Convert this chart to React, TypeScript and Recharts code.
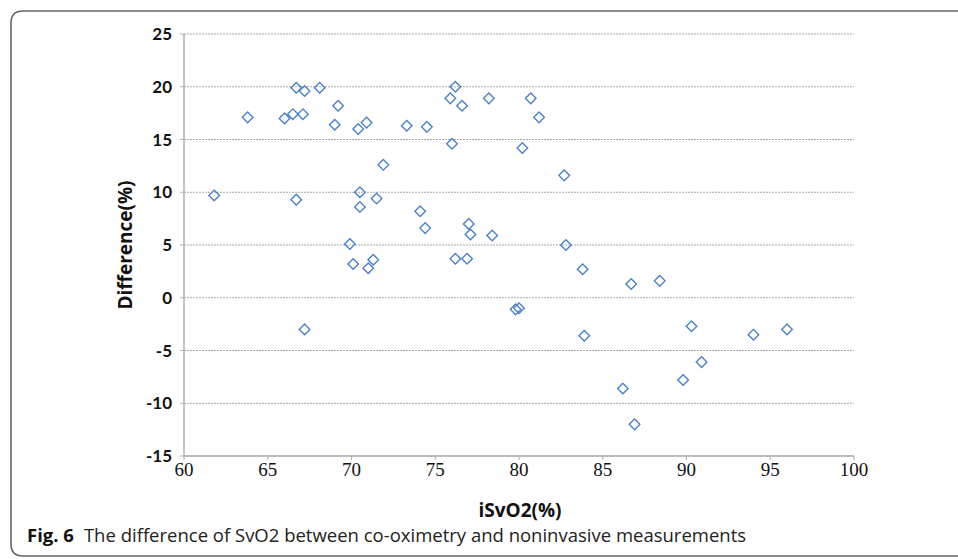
import React from 'react';
import { ScatterChart, Scatter, XAxis, YAxis, CartesianGrid, Label } from 'recharts';

const isvo2: number[] = [
  61.8, 63.8, 66.0, 66.5, 66.7, 67.2, 67.1, 66.7, 68.1, 69.2,
  69.0, 70.4, 70.9, 71.9, 70.5, 70.5, 71.5, 69.9, 70.1, 71.0,
  71.3, 73.3, 74.5, 74.1, 74.4, 75.9, 76.2, 76.6, 76.0, 77.0,
  77.1, 76.2, 76.9, 67.2, 78.2, 80.7, 81.2, 80.2, 82.7, 78.4,
  82.8, 83.8, 86.7, 88.4, 79.8, 80.0, 83.9, 90.3, 94.0, 96.0,
  90.9, 89.8, 86.2, 86.9,
];
const difference: number[] = [
  9.7, 17.1, 17.0, 17.4, 19.9, 19.6, 17.4, 9.3, 19.9, 18.2,
  16.4, 16.0, 16.6, 12.6, 10.0, 8.6, 9.4, 5.1, 3.2, 2.8,
  3.6, 16.3, 16.2, 8.2, 6.6, 18.9, 20.0, 18.2, 14.6, 7.0,
  6.0, 3.7, 3.7, -3.0, 18.9, 18.9, 17.1, 14.2, 11.6, 5.9,
  5.0, 2.7, 1.3, 1.6, -1.1, -1.0, -3.6, -2.7, -3.5, -3.0,
  -6.1, -7.8, -8.6, -12.0,
];
const xTicks = [60, 65, 70, 75, 80, 85, 90, 95, 100];
const yTicks = [-15, -10, -5, 0, 5, 10, 15, 20, 25];

const points = isvo2.map((x, i) => ({ x, y: difference[i] }));

const Diamond = (props: any) => {
  const { cx, cy } = props;
  const r = 5.3;
  return (
    <path
      d={`M${cx},${cy - r}L${cx + r},${cy}L${cx},${cy + r}L${cx - r},${cy}Z`}
      fill="none"
      stroke="#4f81c7"
      strokeWidth={1.4}
    />
  );
};

export default function App() {
  return (
    <div style={{ position: 'fixed', left: 0, top: 0, width: 958, height: 559, background: '#fff', overflow: 'hidden' }}>
      <svg width={958} height={559} style={{ position: 'absolute', left: 0, top: 0 }}>
        <path d="M958,11 H23 Q11,11 11,23 V544 Q11,556 23,556 H958" fill="none" stroke="#666" strokeWidth={1.6} />
      </svg>
      <div style={{ position: 'absolute', left: 0, top: 0 }}>
        <ScatterChart width={958} height={559} margin={{ top: 34, right: 104, bottom: 72, left: 0 }}>
          <CartesianGrid horizontal vertical={false} stroke="#a8a8a8" strokeDasharray="2 1" />
          <XAxis
            type="number"
            dataKey="x"
            domain={[60, 100]}
            ticks={xTicks}
            allowDataOverflow
            height={31}
            axisLine={{ stroke: '#b0b0b0', strokeWidth: 1.5 }}
            tickLine={{ stroke: '#b0b0b0' }}
            tickSize={4}
            tickMargin={3}
            tick={{ fontFamily: 'Liberation Serif', fontSize: 19, fill: '#111' }}
          >
            <Label
              content={() => (
                <text x={520} y={517} textAnchor="middle" fontFamily="Open Sans" fontWeight="bold" fontSize={19} fill="#111">
                  iSvO2(%)
                </text>
              )}
            />
          </XAxis>
          <YAxis
            type="number"
            dataKey="y"
            domain={[-15, 25]}
            ticks={yTicks}
            allowDataOverflow
            width={184}
            axisLine={{ stroke: '#b0b0b0', strokeWidth: 1.5 }}
            tickLine={{ stroke: '#b0b0b0' }}
            tickSize={4}
            tickMargin={8}
            tick={{ fontFamily: 'Lato', fontWeight: 'bold', fontSize: 17, fill: '#111' }}
          >
            <Label
              content={() => (
                <text
                  x={0}
                  y={0}
                  transform="translate(132,245) rotate(-90)"
                  textAnchor="middle"
                  fontFamily="Open Sans"
                  fontWeight="bold"
                  fontSize={19}
                  fill="#111"
                >
                  Difference(%)
                </text>
              )}
            />
          </YAxis>
          <Scatter data={points} shape={Diamond} isAnimationActive={false} />
        </ScatterChart>
      </div>
      <div
        style={{
          position: 'absolute',
          left: 27,
          top: 522,
          fontFamily: 'Open Sans',
          fontSize: 18.5,
          color: '#222',
          whiteSpace: 'nowrap',
        }}
      >
        <b style={{ color: '#111' }}>Fig. 6</b>
        <span style={{ marginLeft: 10 }}>The difference of SvO2 between co-oximetry and noninvasive measurements</span>
      </div>
    </div>
  );
}
